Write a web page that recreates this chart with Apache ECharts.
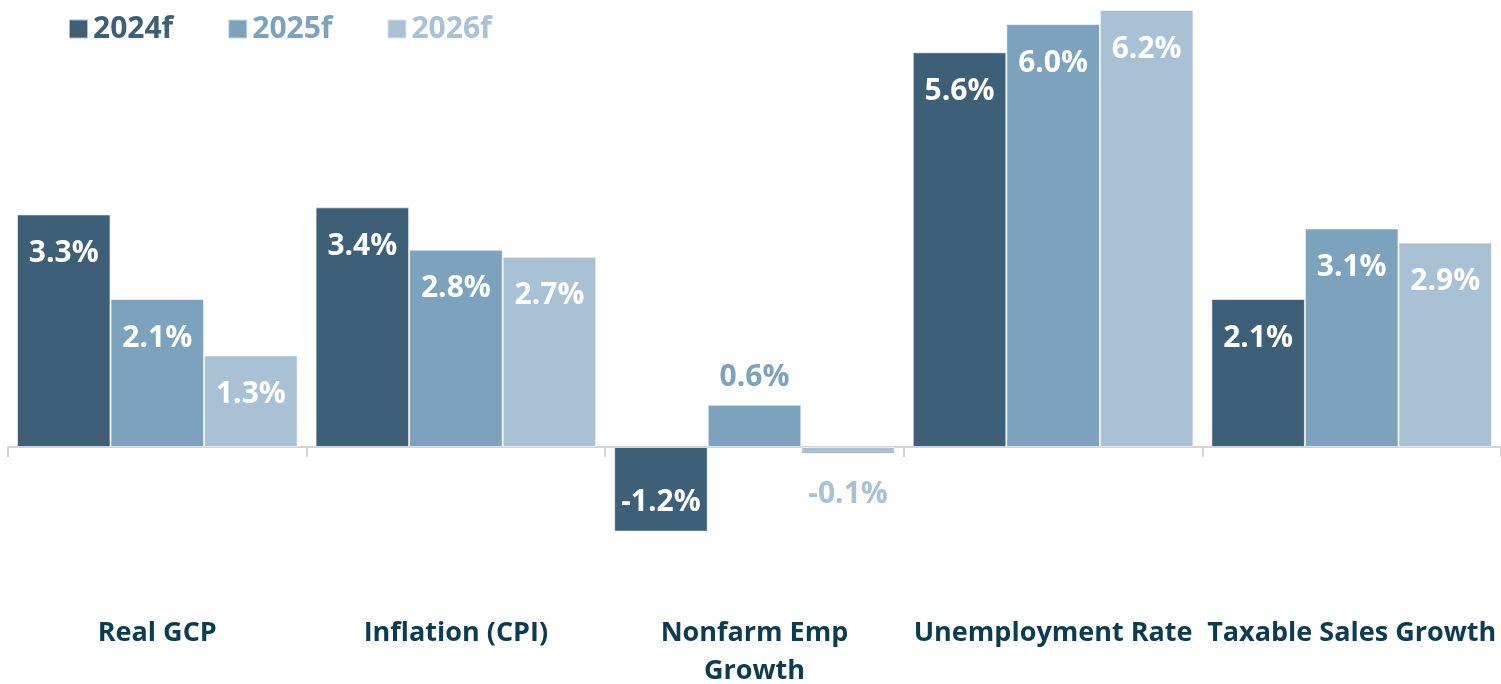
<!DOCTYPE html>
<html>
<head>
<meta charset="utf-8">
<script src="https://cdn.jsdelivr.net/npm/echarts@6/dist/echarts.min.js"></script>
<style>
  html, body { margin: 0; padding: 0; background: #fff; }
  #chart { width: 1501px; height: 684px; }
</style>
</head>
<body>
<div id="chart"></div>
<script>
var categories = ['Real GCP', 'Inflation (CPI)', 'Nonfarm Emp\nGrowth', 'Unemployment Rate', 'Taxable Sales Growth']
var seriesNames = ['2024f', '2025f', '2026f']
var values2024 = [3.3, 3.4, -1.2, 5.6, 2.1]
var values2025 = [2.1, 2.8, 0.6, 6.0, 3.1]
var values2026 = [1.3, 2.7, -0.1, 6.2, 2.9]

var colors = ['#3e5f78', '#7ca2bd', '#a9c1d4']
var font = '"Open Sans", "Noto Sans", sans-serif'

// small bars get their label outside, in the series colour
function makeData(vals, color) {
  return vals.map(function (v) {
    if (Math.abs(v) < 1) {
      return {
        value: v,
        label: {
          position: v < 0 ? 'bottom' : 'top',
          distance: v < 0 ? 25 : 12,
          color: color
        }
      }
    }
    if (v < 0) {
      return { value: v, label: { position: 'insideBottom', distance: 14 } }
    }
    return v
  })
}

var allValues = [values2024, values2025, values2026]

var chart = echarts.init(document.getElementById('chart'))
chart.setOption({
  animation: false,
  color: colors,
  legend: {
    left: 63,
    top: 9,
    itemWidth: 19,
    itemHeight: 19,
    itemGap: 54,
    icon: 'rect',
    textStyle: {
      fontFamily: font,
      fontWeight: 'bold',
      fontSize: 30,
      color: 'inherit'
    },
    data: seriesNames
  },
  grid: {
    left: 8,
    right: 0,
    top: 10,
    bottom: 96,
    containLabel: false,
    outerBoundsMode: 'none'
  },
  xAxis: [{
    type: 'category',
    data: categories,
    axisLine: { onZero: true, lineStyle: { color: '#d4d4d4', width: 2 } },
    axisTick: { show: true, length: 10, lineStyle: { color: '#d4d4d4', width: 2 } },
    axisLabel: { show: false }
  }, {
    type: 'category',
    data: categories,
    position: 'bottom',
    axisLine: { show: false, onZero: false },
    axisTick: { show: false },
    axisLabel: {
      interval: 0,
      margin: 26,
      fontFamily: font,
      fontWeight: 'bold',
      fontSize: 27,
      lineHeight: 38,
      color: '#0b3c50'
    }
  }],
  yAxis: {
    type: 'value',
    min: -2,
    max: 6.2,
    show: false,
    splitLine: { show: false }
  },
  series: seriesNames.map(function (name, i) {
    return {
      name: name,
      type: 'bar',
      barGap: 0,
      barCategoryGap: '6%',
      itemStyle: { borderColor: 'rgba(255,255,255,0.6)', borderWidth: 1 },
      label: {
        show: true,
        position: 'insideTop',
        distance: 24,
        color: '#fff',
        fontFamily: font,
        fontWeight: 'bold',
        fontSize: 30,
        formatter: function (p) { return p.value.toFixed(1) + '%' }
      },
      data: makeData(allValues[i], colors[i])
    }
  })
})
</script>
</body>
</html>
